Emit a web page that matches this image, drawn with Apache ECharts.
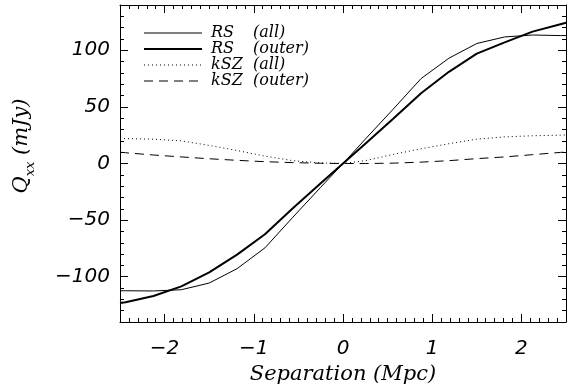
<!DOCTYPE html>
<html>
<head>
<meta charset="utf-8">
<script src="https://cdn.jsdelivr.net/npm/echarts@6/dist/echarts.min.js"></script>
<style>
  html, body { margin: 0; padding: 0; background: #fff; }
  #chart { width: 579px; height: 392px; }
</style>
</head>
<body>
<div id="chart"></div>
<script>
// separation (Mpc) at which the profiles were sampled
const separation = [-2.5, -2.4375, -2.125, -1.8125, -1.5, -1.1875, -0.875, -0.5625, -0.25, 0,
  0.25, 0.5625, 0.875, 1.1875, 1.5, 1.8125, 2.125, 2.4375, 2.5];

// Q_xx in mJy
const rsAll = [-112.4, -112.4, -112.6, -111.5, -105.6, -92.9, -74.5, -47.5, -21, 0,
  21.5, 48, 75, 93, 106, 111.8, 113.5, 113, 113];
const rsOuter = [-123.3, -122.5, -117, -108.5, -96.2, -80.5, -62.5, -39.5, -17.5, 0,
  17.5, 39.5, 62, 81, 97, 107, 116.5, 123, 124.3];
const kszAll = [22, 22, 21.5, 20, 16, 11.5, 6.5, 2.5, 0.5, 0,
  2.5, 8, 13, 17.5, 21.5, 23.5, 24.5, 25, 25.3];
const kszOuter = [10, 9.5, 7.5, 5.8, 4.2, 2.8, 1.6, 0.8, 0.2, 0,
  0, 0.3, 1.2, 2.5, 4.3, 5.8, 7.8, 9.8, 10.2];

const seriesNames = ['RS (all)', 'RS (outer)', 'kSZ (all)', 'kSZ (outer)'];

const X_MIN = -2.5, X_MAX = 2.5;
const Y_MIN = -140, Y_MAX = 140;

const pairs = (ys) => separation.map((x, i) => [x, ys[i]]);
const minus = (v) => (v < 0 ? '\u2212' + (-v) : String(v));

const tickFont = { fontFamily: 'DejaVu Sans', fontStyle: 'italic', fontSize: 20, color: '#000' };
const black = { color: '#000', width: 1 };

// major/minor tick axes; the frame is drawn by the top/right copies
function xAxisFor(position, minor) {
  return {
    type: 'value', position, min: X_MIN, max: X_MAX,
    ...(minor ? { interval: 0.1 } : { splitNumber: 5 }),
    axisLine: { show: !minor, onZero: false, lineStyle: black },
    axisTick: { show: true, inside: true, length: minor ? 4 : 8, lineStyle: black },
    axisLabel: (position === 'bottom' && !minor)
      ? { ...tickFont, margin: 17, formatter: minus, showMinLabel: false, showMaxLabel: false }
      : { show: false },
    splitLine: { show: false },
  };
}
function yAxisFor(position, minor) {
  return {
    type: 'value', position, min: Y_MIN, max: Y_MAX,
    ...(minor ? { interval: 10 } : { splitNumber: 5 }),
    axisLine: { show: !minor, onZero: false, lineStyle: black },
    axisTick: { show: true, inside: true, length: minor ? 4 : 8, lineStyle: black },
    axisLabel: (position === 'left' && !minor)
      ? { ...tickFont, margin: 10, formatter: minus, showMinLabel: false, showMaxLabel: false }
      : { show: false },
    splitLine: { show: false },
  };
}

const xAxes = [xAxisFor('bottom', false), xAxisFor('bottom', true), xAxisFor('top', false), xAxisFor('top', true)];
xAxes[0].name = 'Separation (Mpc)';
xAxes[0].nameLocation = 'middle';
xAxes[0].nameGap = 42;
xAxes[0].nameTextStyle = { fontFamily: 'DejaVu Serif', fontStyle: 'italic', fontSize: 21, color: '#000' };

const yAxes = [yAxisFor('left', false), yAxisFor('left', true), yAxisFor('right', false), yAxisFor('right', true)];

const styles = [
  { width: 1, type: 'solid' },
  { width: 2, type: 'solid' },
  { width: 1, type: [1, 3] },
  { width: 1, type: [9, 6] },
];
const values = [rsAll, rsOuter, kszAll, kszOuter];

const chart = echarts.init(document.getElementById('chart'), null, { renderer: 'canvas' });
chart.setOption({
  animation: false,
  backgroundColor: '#fff',
  grid: { left: 120, right: 13, top: 5, bottom: 70, containLabel: false },
  xAxis: xAxes,
  yAxis: yAxes,
  legend: {
    orient: 'vertical', left: 143, top: 25, padding: 0,
    itemWidth: 58, itemHeight: 15, itemGap: 0,
    data: seriesNames,
    itemStyle: { opacity: 0 },
    lineStyle: { width: 'inherit', opacity: 1 },
    formatter: (name) => {
      const [head, tail] = name.split(' ');
      return '{a|' + head + '}{b|' + tail + '}';
    },
    textStyle: {
      padding: [0, 0, 0, 4],
      rich: {
        a: { fontFamily: 'DejaVu Serif', fontStyle: 'italic', fontSize: 16, color: '#000', width: 42, lineHeight: 15 },
        b: { fontFamily: 'DejaVu Serif', fontStyle: 'italic', fontSize: 16, color: '#000', lineHeight: 15 },
      },
    },
  },
  graphic: [{
    type: 'text', x: 22, y: 146, rotation: Math.PI / 2,
    style: {
      text: '{q|Q}{s|xx}{q| (mJy)}',
      align: 'center', verticalAlign: 'middle', fill: '#000',
      rich: {
        q: { fontFamily: 'DejaVu Serif', fontStyle: 'italic', fontSize: 21, lineHeight: 30, fill: '#000' },
        s: { fontFamily: 'DejaVu Serif', fontStyle: 'italic', fontSize: 13, lineHeight: 16, verticalAlign: 'bottom', fill: '#000' },
      },
    },
  }],
  series: seriesNames.map((name, i) => ({
    name, type: 'line', xAxisIndex: 0, yAxisIndex: 0,
    data: pairs(values[i]),
    symbol: 'none', clip: true,
    lineStyle: { color: '#000', ...styles[i] },
    itemStyle: { color: '#000' },
    emphasis: { disabled: true },
  })),
});
</script>
</body>
</html>
